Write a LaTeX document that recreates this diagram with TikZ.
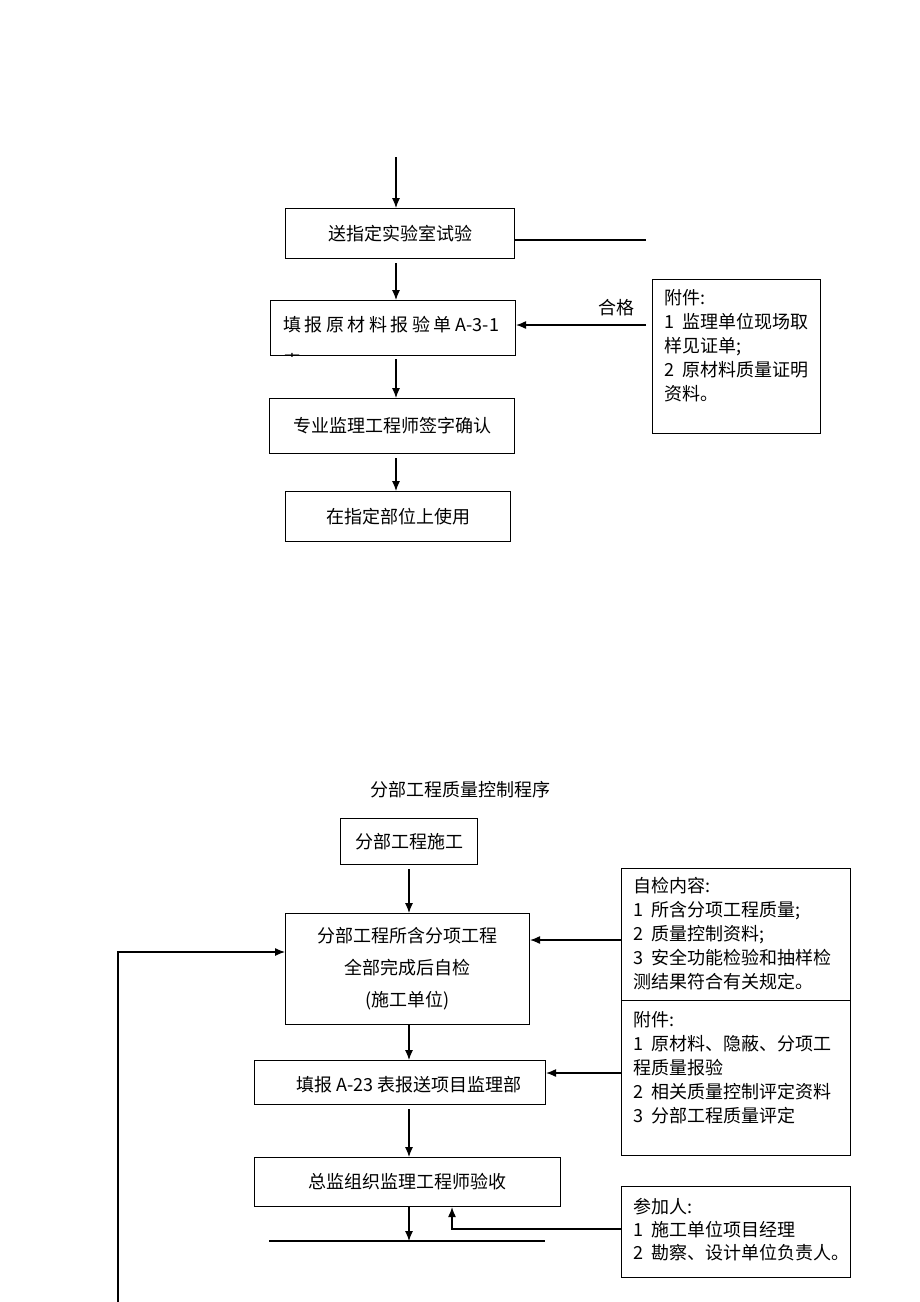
\documentclass[tikz,border=0pt]{standalone}
\usepackage{fontspec}
\setmainfont{Noto Sans CJK SC}
\usetikzlibrary{arrows.meta}
\newcommand\myls{\hspace{3.5pt}}
\newcommand\nsp{\hspace{8pt}}
\tikzset{
  box/.style={draw, line width=1.1pt, inner sep=0pt, anchor=north west},
  lbl/.style={font=\fontsize{18}{24}\selectfont, inner sep=0pt},
  arr/.style={line width=1.1pt, -{Latex[length=10pt,width=8pt]}},
  ln/.style={line width=1.1pt},
}
\begin{document}
\begin{tikzpicture}[x=1pt,y=-1pt]
\useasboundingbox[fill=white] (0,0) rectangle (920,1302);

% ---------- upper part ----------
\node[box, minimum width=229pt, minimum height=50pt] (b1) at (285,208) {};
\node[lbl] (t1) at (b1.center) {送指定实验室试验};
\node[box, minimum width=245pt, minimum height=55pt] (b2) at (270,300) {};
\begin{scope}
  \clip (b2.south west) rectangle (b2.north east);
  \node[lbl, anchor=north west, align=left, font=\fontsize{18}{37}\selectfont] (t2) at (283,316)
    {填\myls 报\myls 原\myls 材\myls 料\myls 报\myls 验\myls 单 A-3-1\\表};
\end{scope}
\node[box, minimum width=245pt, minimum height=55pt] (b3) at (269,398) {};
\node[lbl] (t3) at (b3.center) {专业监理工程师签字确认};
\node[box, minimum width=225pt, minimum height=50pt] (b4) at (285,491) {};
\node[lbl] (t4) at (b4.center) {在指定部位上使用};

\node[box, minimum width=168pt, minimum height=154pt] (fj1) at (652,279) {};
\node[lbl, anchor=north west, align=left] (tf1) at (664,289)
  {附件:\\1\nsp 监理单位现场取\\样见证单;\\2\nsp 原材料质量证明\\资料。};
\node[lbl] (hg) at (616,308) {合格};

\coordinate (s0) at (396,157);
\coordinate (r1) at (646,240);
\coordinate (h1) at (646,325);
\draw[arr] (s0) -- (s0 |- b1.north);
\draw[arr, shorten <=4pt] (s0 |- b1.south) -- (s0 |- b2.north);
\draw[arr, shorten <=3pt] (s0 |- b2.south) -- (s0 |- b3.north);
\draw[arr, shorten <=4pt] (s0 |- b3.south) -- (s0 |- b4.north);
\draw[ln] (b1.east |- r1) -- (r1);
\draw[arr] (h1) -- (b2.east |- h1);

% ---------- lower part ----------
\node[lbl] (title) at (460,790) {分部工程质量控制程序};
\node[box, minimum width=137pt, minimum height=46pt] (b5) at (340,818) {};
\node[lbl] (t5) at (b5.center) {分部工程施工};
\node[box, minimum width=244pt, minimum height=111pt] (b6) at (285,913) {};
\node[lbl, align=center, font=\fontsize{18}{32}\selectfont] (t6) at (b6.center)
  {分部工程所含分项工程\\全部完成后自检\\(施工单位)};
\node[box, minimum width=291pt, minimum height=44pt] (b7) at (254,1060) {};
\node[lbl] (t7) at (409,1085) {填报 A-23 表报送项目监理部};
\node[box, minimum width=306pt, minimum height=49pt] (b8) at (254,1157) {};
\node[lbl] (t8) at (407,1182) {总监组织监理工程师验收};

\node[box, minimum width=229pt, minimum height=132pt] (zj) at (621,868) {};
\node[lbl, anchor=north west, align=left] (tzj) at (633,877)
  {自检内容:\\1\nsp 所含分项工程质量;\\2\nsp 质量控制资料;\\3\nsp 安全功能检验和抽样检\\测结果符合有关规定。};
\node[box, minimum width=229pt, minimum height=155pt] (fj2) at (621,1000) {};
\node[lbl, anchor=north west, align=left] (tfj2) at (633,1011)
  {附件:\\1\nsp 原材料、隐蔽、分项工\\程质量报验\\2\nsp 相关质量控制评定资料\\3\nsp 分部工程质量评定};
\node[box, minimum width=229pt, minimum height=91pt] (cj) at (621,1186) {};
\node[lbl, anchor=north west, align=left, font=\fontsize{18}{23}\selectfont] (tcj) at (633,1198)
  {参加人:\\1\nsp 施工单位项目经理\\2\nsp 勘察、设计单位负责人。};

\coordinate (xm) at (409,0);
\coordinate (c1) at (621,940);
\coordinate (c2) at (621,1073);
\coordinate (c3) at (621,1229);
\coordinate (c4) at (452,1229);
\coordinate (lb) at (118,1302);
\coordinate (lt) at (118,952);
\coordinate (bl1) at (269,1241);
\coordinate (bl2) at (545,1241);

\draw[arr, shorten <=4pt] (xm |- b5.south) -- (xm |- b6.north);
\draw[arr] (xm |- b6.south) -- (xm |- b7.north);
\draw[arr, shorten <=4pt] (xm |- b7.south) -- (xm |- b8.north);
\draw[arr] (xm |- b8.south) -- (xm |- bl1);
\draw[ln] (bl1) -- (bl2);
\draw[arr] (lb) -- (lt) -- (b6.west |- lt);
\draw[arr] (zj.west |- c1) -- (b6.east |- c1);
\draw[arr] (fj2.west |- c2) -- (b7.east |- c2);
\draw[arr] (cj.west |- c3) -- (c4) -- (c4 |- b8.south);
\end{tikzpicture}
\end{document}
